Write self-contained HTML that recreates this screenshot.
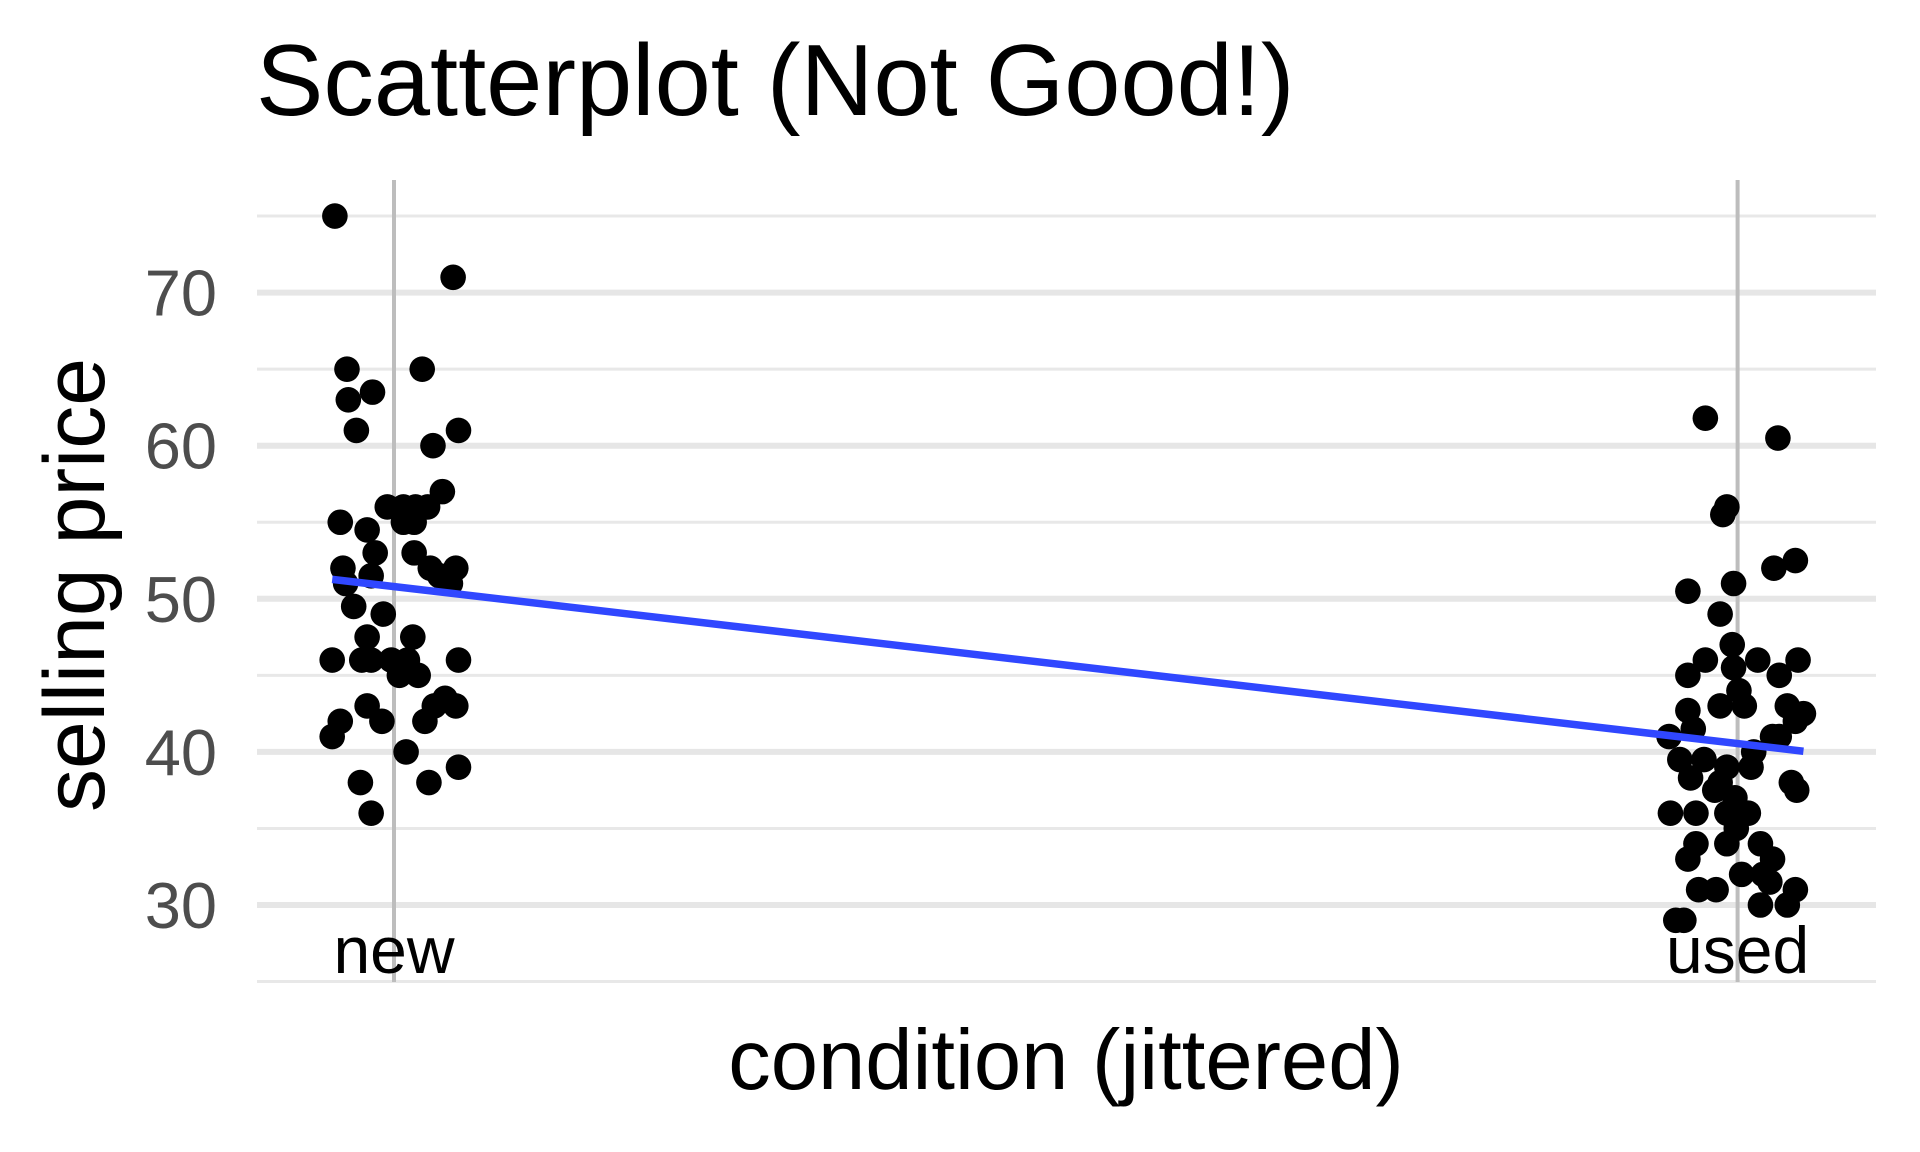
<!DOCTYPE html>
<html><head><meta charset="utf-8"><style>
html,body{margin:0;padding:0;background:#fff;}
svg{display:block;font-family:"Liberation Sans",Arial,sans-serif;}
</style></head><body>
<svg id="chart" width="1920" height="1152" viewBox="0 0 1920 1152" xmlns="http://www.w3.org/2000/svg">
<text x="256" y="115" font-size="101" fill="#000">Scatterplot (Not Good!)</text>
<g id="grid"></g>
<g id="yticks"></g>
<g id="xticks"></g>
<g id="points"></g>
<g id="fit"></g>
<text x="1066" y="1089" font-size="85" text-anchor="middle" fill="#000">condition (jittered)</text>
<text transform="translate(104,585) rotate(-90)" font-size="86" text-anchor="middle" fill="#000">selling price</text>
</svg>
<script>
const categories = ["new","used"];
const yTicks = [30,40,50,60,70];
const yMinor = [25,35,45,55,65,75];
// jitter offsets (category units) and selling prices
const newJitter = [-0.044,0.044,-0.035,0.021,-0.034,-0.016,-0.028,0.048,0.029,0.036,-0.04,-0.005,0.007,0.016,0.025,0.015,0.007,-0.02,-0.014,-0.038,0.027,0.046,-0.036,-0.017,0.034,0.042,0.015,-0.03,-0.008,-0.02,0.014,-0.046,-0.024,-0.017,-0.002,0.01,0.004,0.018,0.048,0.038,0.046,-0.02,0.03,-0.04,-0.009,0.023,-0.046,0.009,-0.025,0.026,0.048,-0.017];
const newPrice = [75,71,65,65,63,63.5,61,61,60,57,55,56,56,56,56,55,55,54.5,53,52,52,52,51,51.5,51.5,51,53,49.5,49,47.5,47.5,46,46,46,46,46,45,45,46,43.5,43,43,43,42,42,42,41,40,38,38,39,36];
const usedJitter = [-0.024,0.03,-0.008,-0.011,0.027,0.043,-0.037,-0.003,-0.013,-0.037,-0.024,-0.004,-0.003,0.015,0.031,0.045,-0.037,-0.033,-0.051,-0.013,0.001,0.005,0.037,0.043,0.049,0.026,-0.043,-0.025,-0.035,-0.008,0.012,0.01,-0.013,0.031,0.04,0.044,-0.017,-0.002,-0.008,0.008,-0.05,-0.031,-0.001,-0.031,-0.008,-0.037,0.017,0.026,0.003,0.019,0.024,-0.029,-0.016,0.043,0.017,0.037,-0.046,-0.04];
const usedPrice = [61.8,60.5,56,55.5,52,52.5,50.5,51,49,45,46,47,45.5,46,45,46,42.7,41.5,41,43,44,43,43,42,42.5,41,39.5,39.5,38.3,39,40,39,38,41,38,37.5,37.5,37,36,36,36,36,35,34,34,33,34,33,32,32,31.5,31,31,31,30,30,29,29];

const NS="http://www.w3.org/2000/svg";
const X0=394, X1=1737.6, PL=257, PR=1876, PT=180, PB=982;
const xs = c => X0 + (X1-X0)*c;
const ys = v => 905 - (v-30)*15.31;
function mk(tag, attrs, parent){const e=document.createElementNS(NS,tag);for(const k in attrs)e.setAttribute(k,attrs[k]);parent.appendChild(e);return e;}
const grid=document.getElementById('grid');
yMinor.forEach(v=>{
  const l=mk('line',{x1:PL,x2:PR,y1:ys(v),y2:ys(v),stroke:'#e8e8e8','stroke-width':3},grid);
  
  
});
const yt=document.getElementById('yticks');
yTicks.forEach(v=>{
  const l=mk('line',{x1:PL,x2:PR,y1:ys(v),y2:ys(v),stroke:'#e6e6e6','stroke-width':6},grid);
  
  
  const t=mk('text',{x:217,y:ys(v)+23,'font-size':65,'text-anchor':'end',fill:'#4d4d4d'},yt);
  t.textContent=v;
  
  
});
const xt=document.getElementById('xticks');
categories.forEach((c,i)=>{
  const l=mk('line',{x1:xs(i),x2:xs(i),y1:PT,y2:PB,stroke:'#bdbdbd','stroke-width':4},grid);
  
  
  const t=mk('text',{x:xs(i),y:973,'font-size':66,'text-anchor':'middle',fill:'#000'},xt);
  t.textContent=c;
  
  
});
const pts=document.getElementById('points');
const allX=[],allY=[];
[[newJitter,newPrice,0],[usedJitter,usedPrice,1]].forEach(([jit,pr,ci])=>{
  pr.forEach((v,i)=>{
    const xv=ci+jit[i];
    allX.push(xv);allY.push(v);
    const c=mk('circle',{cx:xs(xv),cy:ys(v),r:12.8,fill:'#000'},pts);
    
    
  });
});
// least-squares fit
const n=allX.length, mx=allX.reduce((a,b)=>a+b)/n, my=allY.reduce((a,b)=>a+b)/n;
let sxy=0,sxx=0;for(let i=0;i<n;i++){sxy+=(allX[i]-mx)*(allY[i]-my);sxx+=(allX[i]-mx)**2;}
const b=sxy/sxx, a=my-b*mx;
const xmin=Math.min(...allX), xmax=Math.max(...allX);
const fl=mk('line',{x1:xs(xmin),y1:ys(a+b*xmin),x2:xs(xmax),y2:ys(a+b*xmax),stroke:'#3047ff','stroke-width':7.5},document.getElementById('fit'));


</script>
</body></html>
